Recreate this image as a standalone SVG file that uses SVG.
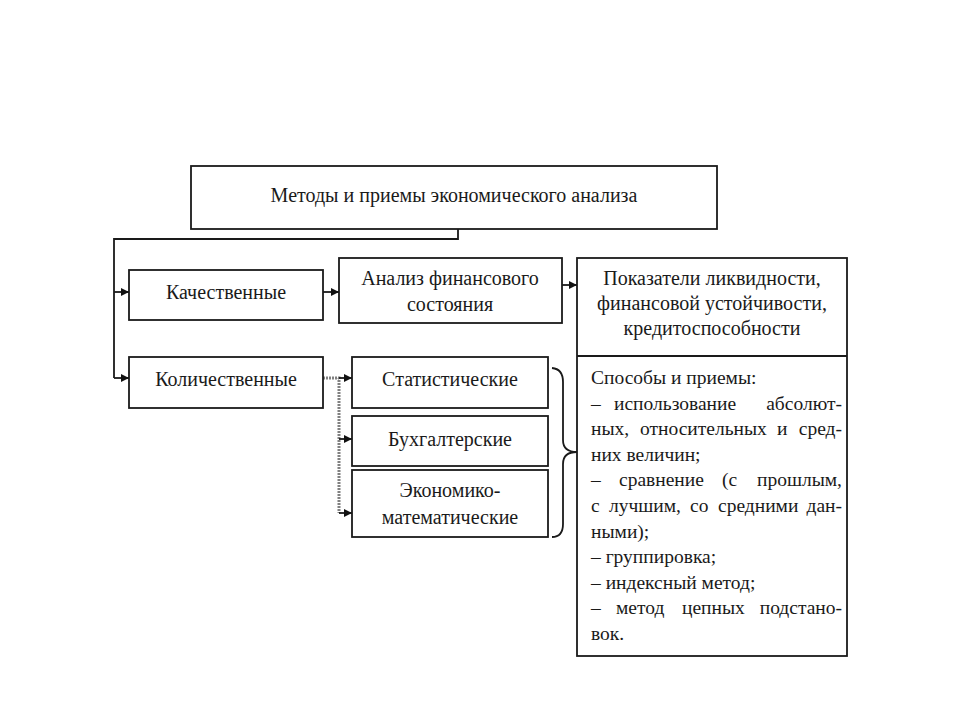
<svg xmlns="http://www.w3.org/2000/svg" width="960" height="720" viewBox="0 0 960 720">
<style>
.box{fill:#fff;stroke:#1a1a1a;stroke-width:1.8}
.t{font-family:"Liberation Serif","Times New Roman",serif;font-size:20px;fill:#1a1a1a}
.s{font-size:19.5px}
.c{text-anchor:middle}
.ln{fill:none;stroke:#1a1a1a;stroke-width:1.8}
.gr{fill:none;stroke:#808080;stroke-width:3;stroke-dasharray:2 1}
</style>
<defs>
<marker id="ar" viewBox="0 0 10 10" refX="10" refY="5" markerWidth="9" markerHeight="8" markerUnits="userSpaceOnUse" orient="auto">
<path d="M0,0 L10,5 L0,10 z" fill="#111"/>
</marker>
</defs>
<rect width="960" height="720" fill="#fff"/>
<g id="connectors">
<path class="ln" d="M458,229 V239 H114 V378"/>
<path class="ln" d="M114,292 H129" marker-end="url(#ar)"/>
<path class="ln" d="M114,378 H129" marker-end="url(#ar)"/>
<path class="ln" d="M323,292 H339" marker-end="url(#ar)"/>
<path class="ln" d="M562,285 H577" marker-end="url(#ar)"/>
<path class="gr" d="M323,378 H339 V513"/>
<path class="ln" d="M339,378 H352" marker-end="url(#ar)"/>
<path class="ln" d="M339,439 H352" marker-end="url(#ar)"/>
<path class="ln" d="M339,513 H352" marker-end="url(#ar)"/>
<path class="ln" d="M552,368 Q563,369 563,382 V440 Q563,452 577,452 Q563,452 563,464 V524 Q563,537 552,537"/>
</g>
<g id="n-top">
<rect class="box" x="191" y="166" width="526" height="63"/>
<text class="t c" x="454" y="202">Методы и приемы экономического анализа</text>
</g>
<g id="n-kach">
<rect class="box" x="129" y="270" width="194" height="50"/>
<text class="t c" x="226" y="299">Качественные</text>
</g>
<g id="n-analiz">
<rect class="box" x="339" y="258" width="223" height="65"/>
<text class="t c" x="450" y="285">Анализ финансового</text>
<text class="t c" x="450" y="311">состояния</text>
</g>
<g id="n-right">
<rect class="box" x="577" y="258" width="270" height="398"/>
<path class="ln" d="M577,356 H847"/>
<text class="t c" x="712" y="285">Показатели ликвидности,</text>
<text class="t c" x="712" y="310">финансовой устойчивости,</text>
<text class="t c" x="712" y="335">кредитоспособности</text>
<text class="t s" x="591" y="384">Способы и приемы:</text>
<text class="t s" y="409.6"><tspan x="591">–</tspan><tspan x="614">использование</tspan><tspan x="842" text-anchor="end">абсолют-</tspan></text>
<text class="t s" y="435.2"><tspan x="591">ных,</tspan><tspan x="640">относительных</tspan><tspan x="777">и</tspan><tspan x="842" text-anchor="end">сред-</tspan></text>
<text class="t s" x="591" y="460.8">них величин;</text>
<text class="t s" y="486.4"><tspan x="591">–</tspan><tspan x="619">сравнение</tspan><tspan x="722">(с</tspan><tspan x="842" text-anchor="end">прошлым,</tspan></text>
<text class="t s" y="512"><tspan x="591">с</tspan><tspan x="609">лучшим,</tspan><tspan x="690">со</tspan><tspan x="718">средними</tspan><tspan x="842" text-anchor="end">дан-</tspan></text>
<text class="t s" x="591" y="537.6">ными);</text>
<text class="t s" x="591" y="563.2">– группировка;</text>
<text class="t s" x="591" y="588.8">– индексный метод;</text>
<text class="t s" y="614.4"><tspan x="591">–</tspan><tspan x="616">метод</tspan><tspan x="682">цепных</tspan><tspan x="842" text-anchor="end">подстано-</tspan></text>
<text class="t s" x="591" y="640">вок.</text>
</g>
<g id="n-kol">
<rect class="box" x="129" y="357" width="194" height="51"/>
<text class="t c" x="226" y="386">Количественные</text>
</g>
<g id="n-stat">
<rect class="box" x="352" y="357" width="196" height="51"/>
<text class="t c" x="450" y="386">Статистические</text>
</g>
<g id="n-buh">
<rect class="box" x="352" y="416" width="196" height="50"/>
<text class="t c" x="450" y="446">Бухгалтерские</text>
</g>
<g id="n-ekon">
<rect class="box" x="352" y="470" width="196" height="67"/>
<text class="t c" x="450" y="497">Экономико-</text>
<text class="t c" x="450" y="524">математические</text>
</g>
</svg>
